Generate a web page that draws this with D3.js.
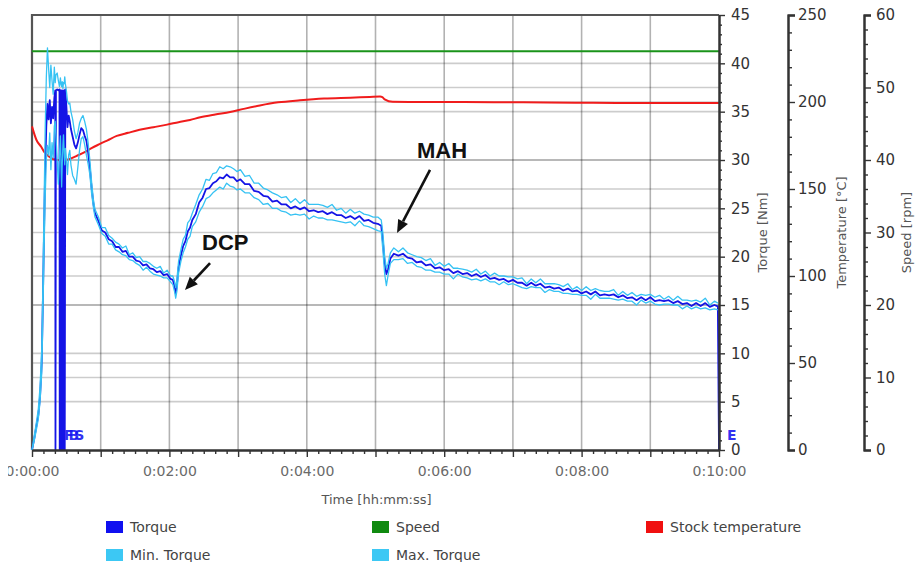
<!DOCTYPE html>
<html>
<head>
<meta charset="utf-8">
<script src="https://cdn.jsdelivr.net/npm/d3@7"></script>
<style>
  html, body { margin: 0; padding: 0; background: #fff; }
  svg { display: block; }
</style>
</head>
<body>
<svg id="chart" width="922" height="562"></svg>
<script>
// ---------- measurement data ----------
// sample times in seconds
const timeSec = [0,2,4,5.5,7,8.5,9.5,10.5,11.5,12.5,13.5,14.5,15.5,16.5,17.5,18.5,19.5,20.3,20.5,20.9,22,23,24,24.2,24.8,25.3,25.9,26.4,27,27.5,28.1,28.6,29.1,30,31,32,33,34,35.5,37,38.5,40,41.5,43,44.5,46,47.5,49,50.5,52,53.5,55,
  58,61,64,67,70,73,76,79,82,85,88,91,94,97,100,103,106,109,112,115,118,121,
  123,124.5,125.5,126.5,128,130,
  132,134,136,138,140,
  143,146,149,152,155,158,161,164,167,170,173,176,179,182,
  186,190,194,198,202,206,210,214,218,222,226,230,234,238,242,246,250,254,258,262,266,270,274,278,282,286,290,294,298,302,
  305,306.5,308,309.5,311,313,
  316,320,324,328,332,336,340,344,348,352,356,360,364,368,372,376,380,384,388,392,396,400,404,408,412,416,420,424,428,432,436,440,444,448,452,456,460,464,468,472,476,480,484,488,492,496,500,504,508,512,516,520,524,528,532,536,540,544,548,552,556,560,564,568,572,576,580,584,588,592,596,
  599,600];

// torque [Nm]
const torque = [0,1.2,2.6,3.6,5.5,9.0,15.5,22.5,29.0,33.5,35.8,34.2,36.2,33.8,35.5,34.3,36.4,37.2,0,37.2,37.3,37.2,37.3,0,37.2,0,37.2,0,37.2,0,37.2,0,37.3,35.6,33.4,34.6,34.0,33.2,32.4,31.6,31.2,31.8,32.6,33.3,33.1,32.5,32.0,30.8,29.2,27.2,25.6,24.5,
  23.7,22.7,22.5,21.8,21.6,21.0,21.0,20.5,20.6,20.0,20.0,19.6,19.5,19.1,19.2,18.8,18.7,18.4,18.5,18.1,18.2,17.7,
  17.6,16.9,16.2,17.0,18.9,20.1,
  21.1,21.6,22.6,23.0,23.8,
  24.4,25.6,26.1,27.0,27.1,27.6,27.8,28.2,28.1,28.5,28.2,28.2,27.8,28.0,
  27.5,27.5,26.8,26.7,26.3,26.2,25.7,25.8,25.4,25.4,25.0,25.2,24.9,25.1,24.7,24.8,24.6,24.7,24.4,24.6,24.3,24.3,24.0,24.2,23.9,24.2,23.7,23.8,23.5,23.4,
  23.2,21.5,19.3,18.2,18.7,19.8,
  20.3,20.1,20.3,19.9,19.8,19.4,19.5,19.1,19.2,18.8,18.9,18.6,18.7,18.3,18.5,18.2,18.3,18.0,18.2,17.9,18.1,17.7,17.8,17.6,17.7,17.4,17.6,17.3,17.3,17.0,17.3,17.0,17.2,16.8,16.9,16.7,16.8,16.5,16.7,16.4,16.5,16.2,16.4,16.1,16.4,16.0,16.1,16.0,16.1,15.8,16.0,15.7,15.8,15.5,15.8,15.5,15.8,15.4,15.5,15.4,15.5,15.2,15.4,15.1,15.2,14.9,15.2,14.9,15.2,14.8,15.0,
  14.85,0];

// min. torque [Nm]
const torqueMin = [0,1.0,2.2,3.2,5.0,8.0,14.0,20.5,26.0,30.0,31.5,30.5,32.8,29.0,31.8,30.2,33.5,34.0,33.2,32.5,30.0,27.5,30.5,31.0,32.5,30.0,27.2,29.5,31.5,32.6,30.8,29.5,31.2,30.2,28.5,30.5,31.0,29.5,28.4,28.0,27.5,29.2,31.0,32.2,32.4,31.6,30.5,29.6,28.5,26.6,25.2,24.1,
  23.3,22.4,22.1,21.3,21.3,20.7,20.5,20.2,20.1,19.7,19.6,19.3,19.1,18.6,18.9,18.5,18.2,18.1,18.0,17.8,17.8,17.4,
  17.1,16.4,15.7,16.4,18.3,19.5,
  20.4,21.0,21.8,22.1,23.1,
  23.6,24.6,25.2,26.0,26.2,26.6,26.9,27.2,27.0,27.6,27.3,27.2,26.9,27.0,
  26.6,26.6,26.1,25.9,25.4,25.5,25.0,25.0,24.7,24.6,24.3,24.4,24.3,24.4,23.9,24.2,24.0,24.0,23.8,23.8,23.7,23.6,23.5,23.6,23.2,23.7,23.2,23.1,22.9,22.7,
  22.6,20.6,18.2,17.0,18.1,19.3,
  19.7,19.7,19.8,19.3,19.4,19.0,18.9,18.6,18.6,18.4,18.4,18.2,18.2,17.7,18.2,17.9,17.8,17.6,17.7,17.5,17.7,17.4,17.4,17.1,17.4,17.1,17.2,17.0,16.8,16.7,16.9,16.8,16.8,16.3,16.6,16.4,16.4,16.2,16.2,16.1,16.1,16.0,16.0,15.6,16.1,15.7,15.7,15.7,15.6,15.5,15.6,15.4,15.4,15.0,15.5,15.2,15.4,15.1,15.0,15.1,15.1,15.0,15.0,14.6,14.9,14.6,14.8,14.6,14.7,14.5,14.6,
  14.5,null];

// max. torque [Nm]
const torqueMax = [0,1.5,3.0,4.2,6.5,10.5,17.0,25.0,33.0,38.5,41.6,39.5,37.5,39.8,38.2,36.8,39.6,38.0,38.4,38.8,39.0,38.2,37.6,37.8,38.5,37.9,37.6,38.1,37.4,38.0,37.9,38.6,37.9,37.2,36.1,35.8,35.9,35.0,34.2,33.0,32.2,32.8,33.8,34.3,34.6,34.0,33.2,31.8,30.0,27.8,26.0,24.9,
  24.1,23.0,23.0,22.2,21.9,21.5,21.3,20.9,21.1,20.2,20.4,19.9,20.0,19.5,19.5,19.3,19.0,18.8,19.0,18.3,18.6,18.0,
  18.0,17.4,16.8,17.6,19.5,20.7,
  21.8,22.2,23.5,23.8,24.5,
  25.4,26.4,27.0,28.0,27.9,28.6,28.7,29.3,29.1,29.4,29.3,29.1,28.8,29.0,
  28.3,28.4,27.6,27.6,27.1,26.9,26.6,26.4,26.1,26.2,25.6,26.0,25.5,25.9,25.4,25.4,25.4,25.3,25.1,25.4,24.8,25.0,24.5,24.9,24.5,24.7,24.4,24.3,24.1,24.1,
  23.8,22.4,20.0,18.8,19.3,20.4,
  20.9,20.5,20.9,20.4,20.2,20.0,19.9,19.6,19.8,19.1,19.4,19.0,19.3,18.8,18.8,18.7,18.6,18.4,18.7,18.2,18.5,18.0,18.3,18.0,18.0,17.9,17.9,17.7,17.8,17.2,17.7,17.3,17.7,17.2,17.2,17.2,17.1,16.9,17.2,16.6,16.9,16.5,16.9,16.5,16.7,16.5,16.4,16.4,16.6,16.0,16.4,16.0,16.3,15.9,16.1,16.0,16.1,15.8,16.0,15.6,15.9,15.5,15.9,15.5,15.5,15.4,15.5,15.3,15.7,15.0,15.4,
  15.2,null];

// stock temperature [°C]
const tempTime = [0,4,8,11,15,18,22,27,33,39,46,52,59,66,74,84,94,106,118,128,138,147,160,173,186,199,215,234,255,278,295,304,306,308,315,350,403,450,490,540,600];
const stockTemp = [186,178,174.3,171,168.6,167.4,166.7,166.5,167.2,169,171.2,173.5,175.8,178,180.5,182.3,184,185.5,187,188.4,189.7,191.2,192.8,194.2,196.2,198,199.8,201,202,202.5,202.9,203.1,202.8,201.5,200.1,200,199.9,199.7,199.5,199.4,199.4];

// rotor speed [rpm]
const speedTime = [0, 150, 300, 450, 600];
const speed = [55, 55, 55, 55, 55];

// axis ticks and labels
const torqueTicks = [0,5,10,15,20,25,30,35,40,45];
const tempTicks = [0,50,100,150,200,250];
const speedTicks = [0,10,20,30,40,50,60];
const timeLabelSec = [0,120,240,360,480,600];
const timeLabels = ["0:00:00","0:02:00","0:04:00","0:06:00","0:08:00","0:10:00"];

// event markers (the first three events fall within a few seconds and share one tag)
const eventTimes = [21, 600];
const eventLabels = ["FBS", "E"];

// annotations: arrow tip, arrow tail and text anchor as [time s, torque Nm]
const annoLabels = ["DCP", "MAH"];
const annoTip = [[133.6, 16.55], [318.8, 22.45]];
const annoTail = [[155.5, 19.34], [347.6, 28.97]];
const annoText = [[148.5, 20.69], [336.2, 30.2]];

// legend
const legendNames = ["Torque", "Speed", "Stock temperature", "Min. Torque", "Max. Torque"];

// ---------- drawing ----------
const W = 922, H = 562;
const plot = { left: 32, right: 719, top: 15, bottom: 450 };
const COLORS = {
  torque: "#1414e6",
  band: "#36c2f3",
  speed: "#1a931a",
  temp: "#f01c1c"
};
const legendColors = ["#1010f0", "#108a10", "#f01010", "#3cc8f4", "#3cc8f4"];

const svg = d3.select("#chart");
svg.append("rect").attr("width", W).attr("height", H).attr("fill", "#fff");

const x = d3.scaleLinear().domain([0, 600]).range([plot.left, plot.right]);
const yTorque = d3.scaleLinear().domain([0, 45]).range([plot.bottom, plot.top]);
const yTemp = d3.scaleLinear().domain([0, 250]).range([plot.bottom, plot.top]);
const ySpeed = d3.scaleLinear().domain([0, 60]).range([plot.bottom, plot.top]);

const minuteTicks = d3.range(0, 601, 60);
const tenSecTicks = d3.range(0, 601, 10).filter(d => d % 60 !== 0);

// grid: horizontal lines from all three value axes, vertical lines each minute
const gGrid = svg.append("g");
const gridY = [].concat(torqueTicks.map(yTorque), tempTicks.map(yTemp), speedTicks.map(ySpeed))
  .filter(y => y > plot.top + 1 && y < plot.bottom - 1);
gGrid.selectAll("line.h").data(gridY).join("line").attr("class", "h")
  .attr("x1", plot.left).attr("x2", plot.right)
  .attr("y1", d => d).attr("y2", d => d)
  .attr("stroke", "#000").attr("stroke-opacity", 0.2).attr("stroke-width", 1.6);
gGrid.selectAll("line.v").data(minuteTicks.filter(t => t > 0 && t < 600)).join("line").attr("class", "v")
  .attr("x1", d => x(d)).attr("x2", d => x(d))
  .attr("y1", plot.top).attr("y2", plot.bottom)
  .attr("stroke", "#000").attr("stroke-opacity", 0.3).attr("stroke-width", 1.6);

// frame (left and top)
svg.append("path")
  .attr("d", `M${plot.left},${plot.bottom}V${plot.top}H${plot.right}`)
  .attr("fill", "none").attr("stroke", "#555").attr("stroke-width", 2.2);

// series
const speedRows = speedTime.map((t, i) => ({ t, v: speed[i] }));
const tempRows = tempTime.map((t, i) => ({ t, v: stockTemp[i] }));
const torqueRows = timeSec.map((t, i) => ({ t, v: torque[i], lo: torqueMin[i], hi: torqueMax[i] }));

svg.append("path").datum(speedRows)
  .attr("fill", "none").attr("stroke", COLORS.speed).attr("stroke-width", 2)
  .attr("d", d3.line().x(d => x(d.t)).y(d => ySpeed(d.v)));

svg.append("path").datum(tempRows)
  .attr("fill", "none").attr("stroke", COLORS.temp).attr("stroke-width", 2)
  .attr("d", d3.line().curve(d3.curveMonotoneX).x(d => x(d.t)).y(d => yTemp(d.v)));

const torqueLine = key => d3.line()
  .defined(d => d[key] != null)
  .x(d => x(d.t)).y(d => yTorque(d[key]));

// torque first, min/max envelope drawn over it
svg.append("path").datum(torqueRows)
  .attr("fill", "none").attr("stroke", COLORS.torque).attr("stroke-width", 1.8)
  .attr("stroke-linejoin", "round")
  .attr("d", torqueLine("v"));
["lo", "hi"].forEach(key => {
  svg.append("path").datum(torqueRows)
    .attr("fill", "none").attr("stroke", COLORS.band).attr("stroke-width", 1.3)
    .attr("stroke-linejoin", "round")
    .attr("d", torqueLine(key));
});

// event tags
svg.append("g").selectAll("text").data(eventTimes).join("text")
  .attr("x", d => x(d) + 8).attr("y", plot.bottom - 10)
  .attr("font-family", "DejaVu Sans").attr("font-size", 14).attr("font-weight", "bold")
  .attr("letter-spacing", (d, i) => eventLabels[i].length > 1 ? -5 : 0)
  .attr("fill", "#1515f0").attr("fill-opacity", 0.9)
  .text((d, i) => eventLabels[i]);

// ---------- axes ----------
function styleAxis(g, size, color) {
  g.selectAll("text")
    .attr("font-family", "DejaVu Sans").attr("font-size", size).attr("fill", color);
  g.selectAll("line").attr("stroke", "#333").attr("stroke-width", 1.4);
  g.selectAll("path.domain").attr("stroke", "#333").attr("stroke-width", 2);
}

// torque axis (right edge of the plot)
const gT = svg.append("g").attr("transform", `translate(${plot.right},0)`);
gT.call(d3.axisRight(yTorque).tickValues(d3.range(0, 46).filter(d => d % 5 !== 0))
  .tickSize(3).tickFormat("").tickSizeOuter(0));
gT.append("g").call(d3.axisRight(yTorque).tickValues(torqueTicks).tickSize(6).tickPadding(6).tickSizeOuter(0));
styleAxis(gT, 15, "#333");

// temperature axis
const tempAxisX = 788;
const gC = svg.append("g").attr("transform", `translate(${tempAxisX},0)`);
gC.call(d3.axisRight(yTemp).tickValues(d3.range(0, 251, 10).filter(d => d % 50 !== 0))
  .tickSize(4).tickFormat("").tickSizeOuter(7));
gC.append("g").call(d3.axisRight(yTemp).tickValues(tempTicks).tickSize(7).tickPadding(3).tickSizeOuter(7));
styleAxis(gC, 15, "#333");

// speed axis
const speedAxisX = 864;
const gS = svg.append("g").attr("transform", `translate(${speedAxisX},0)`);
gS.call(d3.axisRight(ySpeed).tickValues(d3.range(0, 61, 2).filter(d => d % 10 !== 0))
  .tickSize(4).tickFormat("").tickSizeOuter(7));
gS.append("g").call(d3.axisRight(ySpeed).tickValues(speedTicks).tickSize(7).tickPadding(5).tickSizeOuter(7));
styleAxis(gS, 15, "#333");

// axis titles
const midY = (plot.top + plot.bottom) / 2;
[["Torque [Nm]", 762], ["Temperature [°C]", 841], ["Speed [rpm]", 906]].forEach(([label, cx]) => {
  svg.append("text")
    .attr("transform", `translate(${cx},${midY}) rotate(-90)`)
    .attr("text-anchor", "middle").attr("dominant-baseline", "central")
    .attr("font-family", "DejaVu Sans").attr("font-size", 13).attr("fill", "#555")
    .text(label);
});

// time axis
svg.append("defs").append("clipPath").attr("id", "xclip")
  .append("rect").attr("x", 8).attr("y", 0).attr("width", W - 8).attr("height", H);
const gXwrap = svg.append("g").attr("clip-path", "url(#xclip)");
const gX = gXwrap.append("g").attr("transform", `translate(0,${plot.bottom})`);
gX.call(d3.axisBottom(x).tickValues(tenSecTicks).tickSize(4).tickFormat("").tickSizeOuter(0));
gX.append("g").call(d3.axisBottom(x).tickValues(minuteTicks).tickSize(7).tickPadding(9)
  .tickSizeOuter(0)
  .tickFormat(d => {
    const k = timeLabelSec.indexOf(d);
    return k >= 0 ? timeLabels[k] : "";
  }));
styleAxis(gX, 14, "#6a6a6a");

svg.append("text")
  .attr("x", x(300) + 1).attr("y", 504)
  .attr("text-anchor", "middle")
  .attr("font-family", "DejaVu Sans").attr("font-size", 13).attr("fill", "#555")
  .text("Time [hh:mm:ss]");

// ---------- annotations ----------
const gA = svg.append("g");
annoLabels.forEach((label, i) => {
  const tx = x(annoTip[i][0]), ty = yTorque(annoTip[i][1]);
  const sx = x(annoTail[i][0]), sy = yTorque(annoTail[i][1]);
  const ang = Math.atan2(ty - sy, tx - sx);
  const headLen = 13, headHalf = 5.5;
  const bx = tx - headLen * Math.cos(ang), by = ty - headLen * Math.sin(ang);
  gA.append("line")
    .attr("x1", sx).attr("y1", sy).attr("x2", bx).attr("y2", by)
    .attr("stroke", "#111").attr("stroke-width", 2.6);
  const px = -Math.sin(ang), py = Math.cos(ang);
  gA.append("path")
    .attr("d", `M${tx},${ty}L${bx + headHalf * px},${by + headHalf * py}L${bx - headHalf * px},${by - headHalf * py}Z`)
    .attr("fill", "#111");
  gA.append("text")
    .attr("x", x(annoText[i][0])).attr("y", yTorque(annoText[i][1]))
    .attr("font-family", "Liberation Sans, Arial, sans-serif").attr("font-weight", "bold")
    .attr("font-size", 22).attr("fill", "#111")
    .text(label);
});

// ---------- legend ----------
const legendCol = [106, 372, 646];
const legendRow = [527, 555];
const colOf = [0, 1, 2, 0, 1], rowOf = [0, 0, 0, 1, 1];
const gL = svg.append("g");
legendNames.forEach((name, i) => {
  const lx = legendCol[colOf[i]], ly = legendRow[rowOf[i]];
  gL.append("rect").attr("x", lx).attr("y", ly - 6).attr("width", 17).attr("height", 12)
    .attr("fill", legendColors[i]);
  gL.append("text").attr("x", lx + 24).attr("y", ly).attr("dominant-baseline", "central")
    .attr("font-family", "DejaVu Sans").attr("font-size", 14).attr("fill", "#444")
    .text(name);
});
</script>
</body>
</html>
